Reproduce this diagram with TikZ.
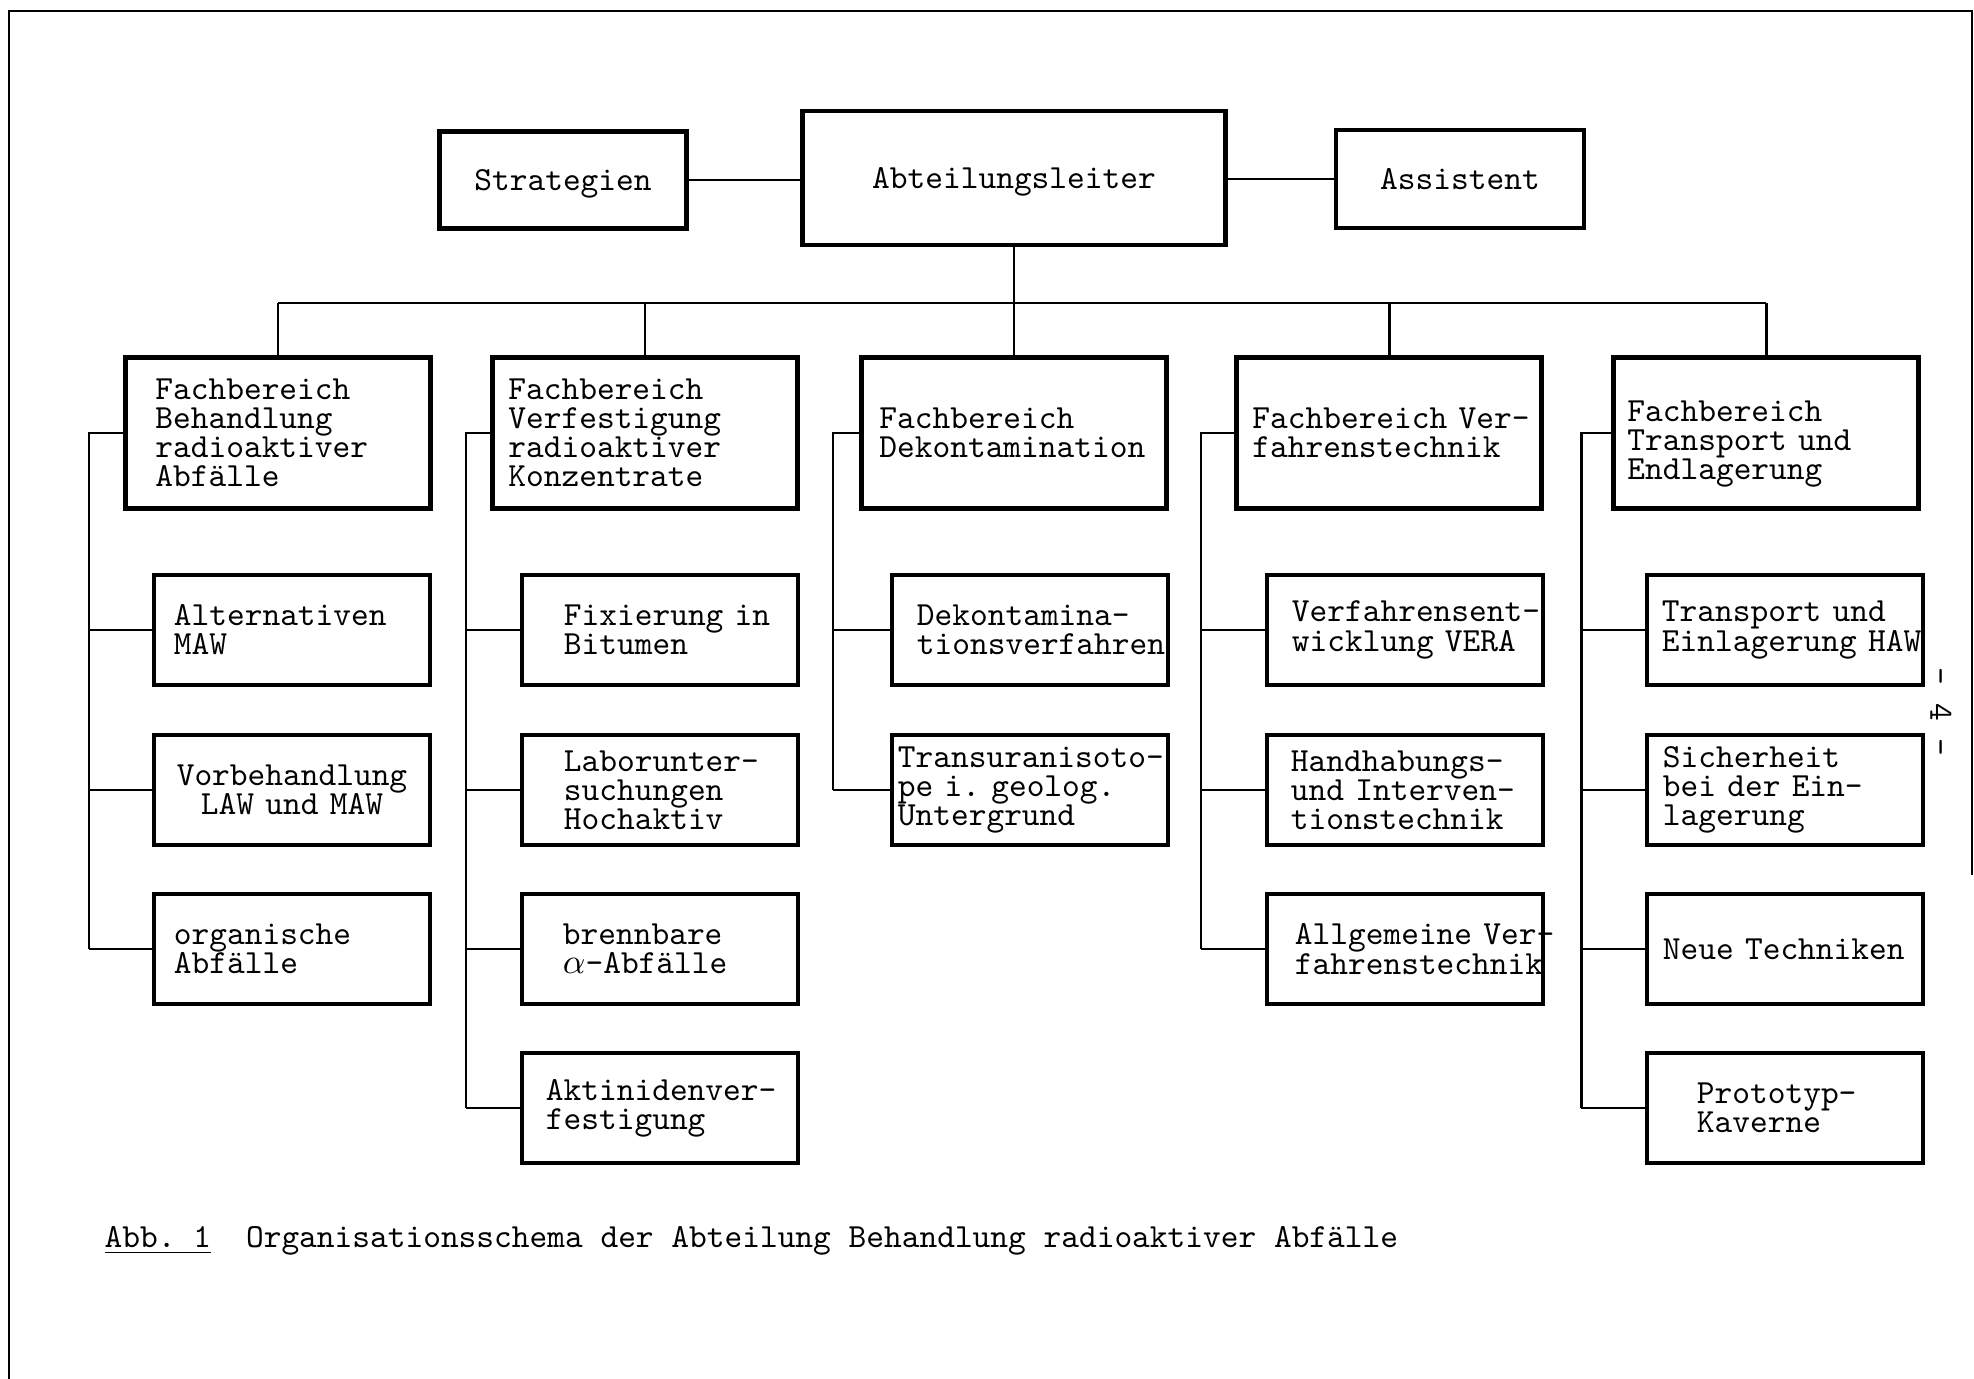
\documentclass[tikz,border=0pt]{standalone}
\usepackage{fontspec}
\usepackage{tikz}
\usetikzlibrary{calc}
\newcommand{\typer}{\fontsize{9.6}{8.3}\selectfont\ttfamily\lineskiplimit=-20pt\hyphenpenalty=10000}
\tikzset{
  box/.style={draw,line width=1.3pt,font=\typer,inner ysep=0pt},
  headbox/.style={box,align=center,text depth=0pt},
  fb/.style={box,minimum width=3.05cm,minimum height=1.51cm,align=left,inner xsep=#1,text width=3.05cm-2*#1},
  subbox/.style={box,minimum width=2.76cm,minimum height=1.10cm,align=left,inner xsep=#1,text width=2.76cm-2*#1},
  ln/.style={line width=0.85pt},
  rim/.style={line width=0.6pt}
}
\begin{document}
\begin{tikzpicture}[x=0.01cm,y=-0.01cm]
\useasboundingbox (0,0) rectangle (1974,1379);
% page frame
\draw[rim] (9,1379) -- (9,11) -- (1972,11) -- (1972,875);

% top row
\node[headbox,minimum width=2.47cm,minimum height=0.97cm] (strat) at (563,180) {Strategien};
\node[headbox,minimum width=4.23cm,minimum height=1.34cm] (leiter) at (1014,178) {Abteilungsleiter};
\node[headbox,minimum width=2.48cm,minimum height=0.98cm] (assist) at (1460,179) {Assistent};

% Fachbereiche
\node[fb=0.30cm] (fb1) at (278,433) {Fachbereich\\Behandlung\\radioaktiver\\Abfälle};
\node[fb=0.16cm] (fb2) at (645,433) {Fachbereich\\Verfestigung\\radioaktiver\\Konzentrate};
\node[fb=0.18cm] (fb3) at (1014,433) {Fachbereich\\Dekontamination};
\node[fb=0.16cm] (fb4) at (1389,433) {Fachbereich~Ver-\\fahrenstechnik};
\node[fb=0.14cm,text height=12pt] (fb5) at (1766,433) {Fachbereich\\Transport~und\\Endlagerung};

% Arbeitsgruppen
\node[subbox=0.20cm] (b1) at (292,630) {Alternativen\\MAW};
\node[subbox=0.22cm,align=center] (b2) at (292,790) {Vorbehandlung\\LAW~und~MAW};
\node[subbox=0.20cm] (b3) at (292,949) {organische\\Abfälle};
\node[subbox=0.42cm] (v1) at (660,630) {Fixierung~in\\Bitumen};
\node[subbox=0.42cm] (v2) at (660,790) {Laborunter-\\suchungen\\Hochaktiv};
\node[subbox=0.41cm] (v3) at (660,949) {brennbare\\$\alpha$-Abfälle};
\node[subbox=0.24cm] (v4) at (660,1108) {Aktinidenver-\\festigung};
\node[subbox=0.25cm] (d1) at (1030,630) {Dekontamina-\\tionsverfahren};
\node[subbox=0.06cm] (d2) at (1030,790) {Transuranisoto-\\pe~i.~geolog.\\Untergrund};
\node[subbox=0.25cm] (t1) at (1405,630) {Verfahrensent-\\wicklung~VERA};
\node[subbox=0.24cm] (t2) at (1405,790) {Handhabungs-\\und~Interven-\\tionstechnik};
\node[subbox=0.28cm] (t3) at (1405,949) {Allgemeine~Ver-\\fahrenstechnik};
\node[subbox=0.15cm] (e1) at (1785,630) {Transport~und\\Einlagerung~HAW};
\node[subbox=0.16cm] (e2) at (1785,790) {Sicherheit\\bei~der~Ein-\\lagerung};
\node[subbox=0.16cm] (e3) at (1785,949) {Neue~Techniken};
\node[subbox=0.50cm] (e4) at (1785,1108) {Prototyp-\\Kaverne};

% top connections
\draw[ln] (strat.east) -- (strat.east -| leiter.west);
\draw[ln] (assist.west) -- (assist.west -| leiter.east);
\coordinate (bus) at (0,303);
\draw[ln] (leiter.south) -- (fb3.north);
\draw[ln] (fb1.north |- bus) -- (fb5.north |- bus);
\foreach \f in {fb1,fb2,fb4,fb5}
  \draw[ln] (\f.north |- bus) -- (\f.north);

% spines
\coordinate (s1) at (89,0);
\coordinate (s2) at (466,0);
\coordinate (s3) at (833,0);
\coordinate (s4) at (1201,0);
\coordinate (s5) at (1581,0);
\draw[ln] (fb1.west) -- (fb1.west -| s1) -- (s1 |- b3.west);
\draw[ln] (fb2.west) -- (fb2.west -| s2) -- (s2 |- v4.west);
\draw[ln] (fb3.west) -- (fb3.west -| s3) -- (s3 |- d2.west);
\draw[ln] (fb4.west) -- (fb4.west -| s4) -- (s4 |- t3.west);
\draw[ln] (fb5.west) -- (fb5.west -| s5) -- (s5 |- e4.west);
\foreach \c in {b1,b2,b3} \draw[ln] (s1 |- \c.west) -- (\c.west);
\foreach \c in {v1,v2,v3,v4} \draw[ln] (s2 |- \c.west) -- (\c.west);
\foreach \c in {d1,d2} \draw[ln] (s3 |- \c.west) -- (\c.west);
\foreach \c in {t1,t2,t3} \draw[ln] (s4 |- \c.west) -- (\c.west);
\foreach \c in {e1,e2,e3,e4} \draw[ln] (s5 |- \c.west) -- (\c.west);

% caption and page number
\node[anchor=west,font=\typer,inner sep=0pt] (cap) at (104,1241) {\underline{Abb.~1}\hspace{0.35cm}Organisationsschema der Abteilung Behandlung radioaktiver Abfälle};
\node[rotate=-90,font=\typer] (pnum) at (1941,712) {- 4 -};
\end{tikzpicture}
\end{document}
